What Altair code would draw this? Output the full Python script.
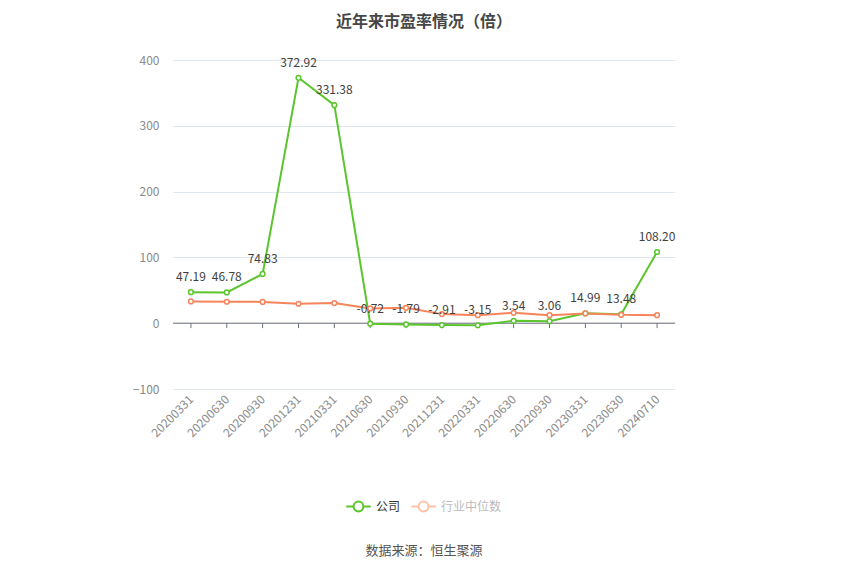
import altair as alt
import pandas as pd

dates = ["20200331", "20200630", "20200930", "20201231", "20210331", "20210630", "20210930",
         "20211231", "20220331", "20220630", "20220930", "20230331", "20230630", "20240710"]
company = [47.19, 46.78, 74.83, 372.92, 331.38, -0.72, -1.79, -2.91, -3.15, 3.54, 3.06, 14.99, 13.48, 108.20]
industry = [33.1, 32.6, 32.4, 29.6, 30.6, 22.4, 23.4, 13.8, 12.2, 15.8, 12.2, 14.8, 12.7, 12.2]
series_names = ["公司", "行业中位数"]
y_ticks = [-100, 0, 100, 200, 300, 400]
title_text = "近年来市盈率情况（倍）"
source_text = "数据来源：恒生聚源"

GREEN = "#5BC52E"
ORANGE = "#F7845A"
ORANGE_FADED = "#FCC3AA"
FONT = "Noto Sans CJK SC"

rows = []
for d, c, i in zip(dates, company, industry):
    rows.append({"date": d, "series": series_names[0], "value": c, "label": f"{c:.2f}"})
    rows.append({"date": d, "series": series_names[1], "value": i, "label": f"{i:.2f}"})
df = pd.DataFrame(rows)
df_company = df[df["series"] == series_names[0]]
df_industry = df[df["series"] == series_names[1]]

W, H = 502, 329
YDOM = [-100, 400]

xenc = alt.X("date:N", sort=dates, scale=alt.Scale(type="point", padding=0.5),
             axis=alt.Axis(title=None, labelAngle=-45, labelAlign="right", labelBaseline="middle",
                           labelColor="#8a8a8a", labelFontSize=12, labelFont=FONT, domain=False,
                           ticks=False, labelPadding=8, grid=False))
yenc = alt.Y("value:Q", scale=alt.Scale(domain=YDOM, nice=False, zero=False),
             axis=alt.Axis(title=None, values=y_ticks, labelColor="#8a8a8a", labelFontSize=12,
                           labelFont=FONT, domain=False, ticks=False, gridColor="#E0E6F1",
                           labelPadding=14))
color = alt.Color("series:N", scale=alt.Scale(domain=series_names, range=[GREEN, ORANGE]), legend=None)

base = alt.Chart(df)

zero_line = alt.Chart(pd.DataFrame({"v": [0]})).mark_rule(color="#6E7079", strokeWidth=1).encode(
    y=alt.Y("v:Q", scale=alt.Scale(domain=YDOM, nice=False))
)
ticks_df = pd.DataFrame({"date": dates, "v0": [0] * len(dates), "v1": [-7.5] * len(dates)})
tick_marks = alt.Chart(ticks_df).mark_rule(color="#6E7079", strokeWidth=1).encode(
    x=alt.X("date:N", sort=dates, scale=alt.Scale(type="point", padding=0.5)),
    y="v0:Q", y2="v1:Q"
)

lines = base.mark_line(strokeWidth=2).encode(x=xenc, y=yenc, color=color,
                                             order=alt.Order("series:N", sort="descending"))
points = base.mark_point(filled=False, fill="white", size=22, strokeWidth=1.5, opacity=1).encode(
    x=alt.X("date:N", sort=dates), y="value:Q", color=color)

labels = alt.Chart(df_company).mark_text(dy=-15, fontSize=12, color="#3f3f3f", font=FONT).encode(
    x=alt.X("date:N", sort=dates), y="value:Q", text="label:N")

sym = "M-1,0L-0.4,0M0.4,0L1,0M0.4,0A0.4,0.4,0,1,1,-0.4,0A0.4,0.4,0,1,1,0.4,0Z"

LEG_Y = H + 104

leg1 = alt.Chart(df_company).mark_point(opacity=0).encode(
    x=alt.X("date:N", sort=dates), y="value:Q",
    shape=alt.Shape("series:N", scale=alt.Scale(domain=[series_names[0]], range=[sym]),
                    legend=alt.Legend(title=None, orient="none", legendX=172, legendY=LEG_Y,
                                      symbolSize=600, direction="horizontal",
                                      symbolStrokeColor=GREEN, symbolFillColor="white",
                                      symbolStrokeWidth=2, symbolOpacity=1, labelColor="#333333",
                                      labelFontSize=12, labelFont=FONT)))

leg2 = alt.Chart(df_industry).mark_point(opacity=0).encode(
    x=alt.X("date:N", sort=dates), y="value:Q",
    shape=alt.Shape("series:N", scale=alt.Scale(domain=[series_names[1]], range=[sym]),
                    legend=alt.Legend(title=None, orient="none", legendX=237, legendY=LEG_Y,
                                      symbolSize=600, direction="horizontal",
                                      symbolStrokeColor=ORANGE_FADED, symbolFillColor="white",
                                      symbolStrokeWidth=2, symbolOpacity=1, labelColor="#BBBBBB",
                                      labelFontSize=12, labelFont=FONT)))

source = alt.Chart(pd.DataFrame({"t": [source_text]})).mark_text(
    fontSize=13, color="#555555", font=FONT, baseline="middle").encode(
    text="t:N", x=alt.value(W / 2), y=alt.value(H + 162))

chart = alt.layer(zero_line, tick_marks, lines, points, labels, leg1, leg2, source).resolve_scale(
    shape="independent").resolve_legend(shape="independent").properties(
    width=W, height=H,
    title=alt.TitleParams(title_text, fontSize=16, fontWeight="bold", color="#464646", font=FONT,
                          anchor="middle", offset=24),
    autosize=alt.AutoSizeParams(type="none"),
    padding={"left": 165, "top": 52, "right": 160, "bottom": 176},
    background="white",
).configure_view(stroke=None)

chart.save("out.html", embed_options={"renderer": "svg", "actions": False})
